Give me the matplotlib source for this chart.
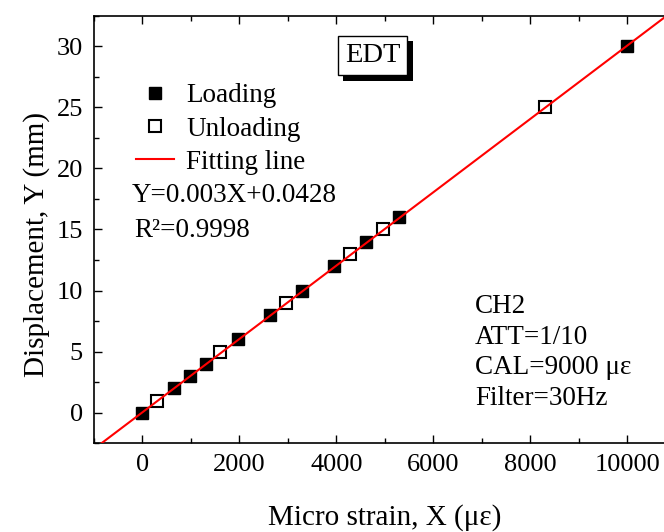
import matplotlib
matplotlib.use('Agg')
import matplotlib.pyplot as plt
import matplotlib.patheffects as pe
from matplotlib.ticker import MultipleLocator
import numpy as np

plt.rcParams['font.family'] = ['Liberation Serif', 'DejaVu Serif']
plt.rcParams['font.size'] = 19

# loading / unloading points
load_x = [0, 650, 980, 1310, 1970, 2630, 3290, 3950, 4610, 5300, 10000]
load_y = [0, 2, 3, 4, 6, 8, 10, 12, 14, 16, 30]
unload_x = [300, 1600, 2960, 4290, 4970, 8310]
unload_y = [1, 5, 9, 13, 15, 25]
slope = 0.003
intercept = 0.0428

fig = plt.figure(figsize=(6.64, 5.32), dpi=100)
ax = fig.add_axes([0.1416, 0.1667, 0.876, 0.804])

fx = np.array([-1000, 11000])
ax.plot(fx, slope * fx + intercept, color='red', lw=1.5, label='Fitting line', zorder=3)
ax.plot(load_x, load_y, 's', color='black', ms=9, mec='black', label='Loading', zorder=2)
ax.plot(unload_x, unload_y, 's', mfc='white', mec='black', mew=1.5, ms=9,
        label='Unloading', zorder=2)

ax.set_xlim(-1000, 11000)
ax.set_ylim(-2.5, 32.5)
ax.xaxis.set_major_locator(MultipleLocator(2000))
ax.xaxis.set_minor_locator(MultipleLocator(1000))
ax.yaxis.set_major_locator(MultipleLocator(5))
ax.yaxis.set_minor_locator(MultipleLocator(2.5))
ax.tick_params(which='both', direction='in', top=True, right=False, width=1)
ax.tick_params(which='major', length=6, labelsize=19, pad=8)
ax.tick_params(which='minor', length=3.5)
for s in ax.spines.values():
    s.set_linewidth(1.2)

ax.set_xlabel('Micro strain, X (\u03bc\u03b5)', fontsize=21, labelpad=20)
ax.set_ylabel('Displacement, Y (mm)', fontsize=21, labelpad=5, y=0.464)

h, l = ax.get_legend_handles_labels()
order = [1, 2, 0]
ax.legend([h[i] for i in order], [l[i] for i in order], loc='upper left',
          bbox_to_anchor=(0.072, 0.842), frameon=False, fontsize=19.5,
          borderpad=0, borderaxespad=0,
          handlelength=1.4, handletextpad=0.45, labelspacing=0.31)

ax.text(0.065, 0.58, 'Y=0.003X+0.0428', transform=ax.transAxes, fontsize=19.5, va='center')
ax.text(0.07, 0.498, 'R\u00b2=0.9998', transform=ax.transAxes, fontsize=19.5, va='center')

ax.text(0.655, 0.212, 'CH2\nATT=1/10\nCAL=9000 \u03bc\u03b5\nFilter=30Hz',
        transform=ax.transAxes, fontsize=19.5, va='center', linespacing=1.3)

t = ax.text(0.479, 0.907, 'EDT', transform=ax.transAxes, fontsize=20.5,
            ha='center', va='center',
            bbox=dict(boxstyle='square,pad=0.25', fc='white', ec='black', lw=1))
t.get_bbox_patch().set_path_effects([
    pe.SimplePatchShadow(offset=(4, -4), shadow_rgbFace='black', alpha=1),
    pe.Normal()])

fig.savefig('out.png', dpi=100)
